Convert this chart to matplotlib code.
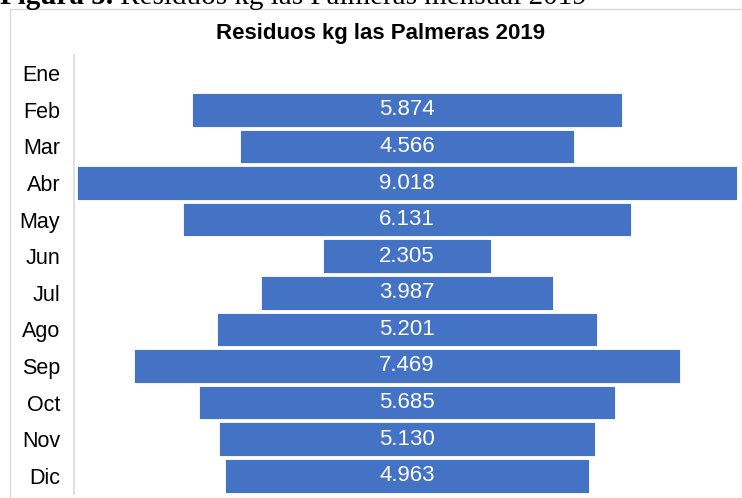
import matplotlib
matplotlib.use("Agg")
from matplotlib import pyplot as plt
from matplotlib.patches import Rectangle

# monthly waste (kg), Ene has no data
meses = ['Ene', 'Feb', 'Mar', 'Abr', 'May', 'Jun', 'Jul', 'Ago', 'Sep', 'Oct', 'Nov', 'Dic']
residuos = [0, 5874, 4566, 9018, 6131, 2305, 3987, 5201, 7469, 5685, 5130, 4963]

titulo = 'Residuos kg las Palmeras 2019'
caption_bold = 'Figura 5.'
caption_rest = ' Residuos kg las Palmeras mensual 2019'

W, H = 742, 498
fig = plt.figure(figsize=(W / 100, H / 100), dpi=100)
fig.patch.set_facecolor('white')

# chart frame (light gray border)
fig.patches.append(Rectangle((10 / W, -0.1), 1.2, 1 - 9 / H + 0.1, transform=fig.transFigure,
                             facecolor='none', edgecolor='#d9d9d9', linewidth=1.0))

ax = fig.add_axes([74 / W, 4 / H, 666 / W, (494 - 55) / H])

pos = list(range(len(meses)))
izq = [-v / 2 for v in residuos]
ax.barh(pos, residuos, left=izq, height=0.92, color='#4472C4', edgecolor='white', linewidth=0.6)

for p, v in zip(pos, residuos):
    if v > 0:
        txt = '{:,}'.format(v).replace(',', '.')
        ax.text(0, p, txt, ha='center', va='center', color='white', fontsize=16,
                family='Liberation Sans')

half = max(residuos) / 2 * (666 / 660)
ax.set_xlim(-half, half)
ax.set_ylim(len(meses) - 0.5, -0.5)
ax.set_yticks(pos)
ax.set_yticklabels(meses, fontsize=15.5, family='Liberation Sans')
ax.tick_params(axis='y', length=0, pad=10)
ax.set_xticks([])
for s in ['top', 'right', 'bottom']:
    ax.spines[s].set_visible(False)
ax.spines['left'].set_color('#d9d9d9')
ax.spines['left'].set_linewidth(1.2)

fig.text(381 / W, 1 - 33 / H, titulo, ha='center', va='center', fontsize=16,
         fontweight='bold', family='Liberation Sans')

# caption cut off at the top of the picture
t = fig.text(0, 1 - 4 / H, caption_bold, ha='left', va='baseline', fontsize=21,
             fontweight='bold', family='Liberation Serif')
fig.canvas.draw()
bb = t.get_window_extent()
fig.text(bb.x1 / W, 1 - 4 / H, caption_rest, ha='left', va='baseline', fontsize=21,
         family='Liberation Serif')

plt.savefig('out.png', dpi=100)
